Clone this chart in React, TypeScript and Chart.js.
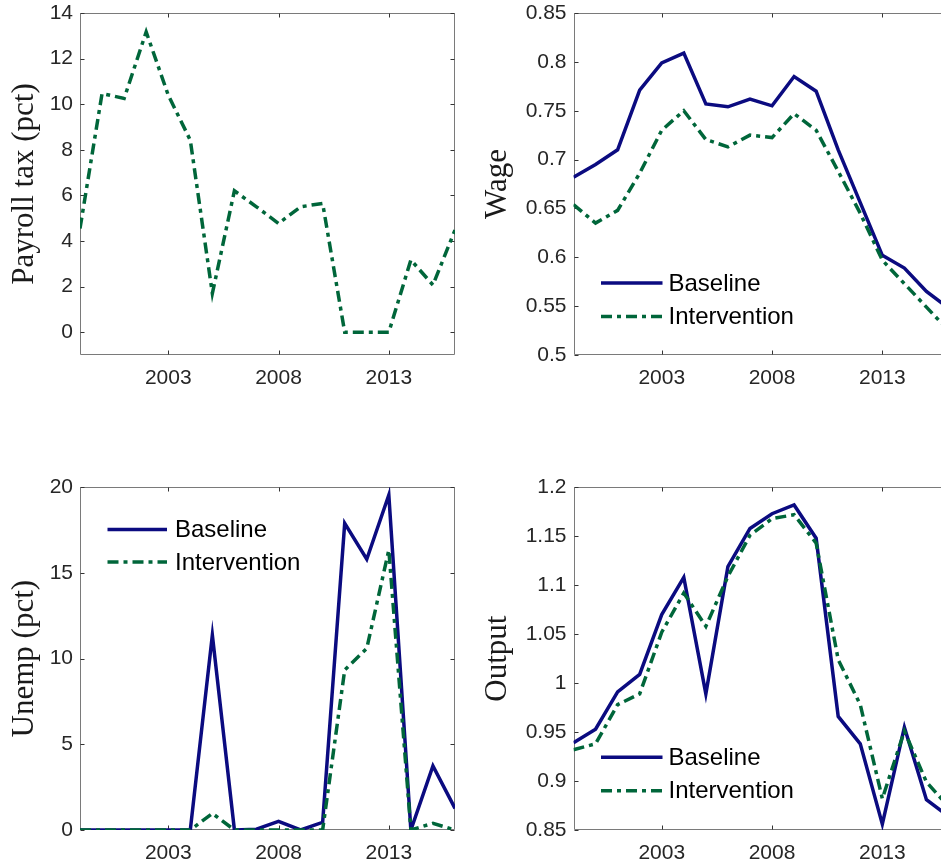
import React, { useEffect, useRef } from 'react';
import { Chart, registerables } from 'chart.js';

Chart.register(...registerables);

// ---------------- data ----------------
const years = [1999, 2000, 2001, 2002, 2003, 2004, 2005, 2006, 2007, 2008, 2009, 2010, 2011, 2012, 2013, 2014, 2015, 2016];
const xTicks = [2003, 2008, 2013];
const xTickLabels = ['2003', '2008', '2013'];

const seriesNames = ['Baseline', 'Intervention'];

const payrollIntervention = [4.55, 10.47, 10.25, 13.17, 10.4, 8.42, 1.7, 6.2, 5.5, 4.77, 5.5, 5.65, 0, 0, 0, 3.17, 2.07, 4.48];

const wageBaseline = [0.682, 0.695, 0.71, 0.771, 0.799, 0.809, 0.757, 0.754, 0.762, 0.755, 0.785, 0.77, 0.71, 0.656, 0.602, 0.589, 0.565, 0.548];
const wageIntervention = [0.654, 0.635, 0.648, 0.686, 0.73, 0.75, 0.7205, 0.713, 0.725, 0.7225, 0.747, 0.73, 0.688, 0.645, 0.597, 0.573, 0.549, 0.525];

const unempBaseline = [0, 0, 0, 0, 0, 0, 11.38, 0, 0.05, 0.5, 0, 0.45, 17.9, 15.8, 19.55, 0, 3.74, 1.26];
const unempIntervention = [0, 0, 0, 0, 0, 0, 0.97, 0, 0, 0, 0, 0, 9.34, 10.6, 16.34, 0, 0.39, 0];

const outputBaseline = [0.939, 0.953, 0.991, 1.009, 1.07, 1.108, 0.989, 1.119, 1.158, 1.173, 1.182, 1.148, 0.966, 0.938, 0.856, 0.955, 0.881, 0.864];
const outputIntervention = [0.932, 0.938, 0.978, 0.989, 1.052, 1.092, 1.058, 1.109, 1.151, 1.168, 1.172, 1.143, 1.024, 0.978, 0.882, 0.951, 0.899, 0.874];

const payrollTicks = [0, 2, 4, 6, 8, 10, 12, 14];
const payrollTickLabels = ['0', '2', '4', '6', '8', '10', '12', '14'];
const wageTicks = [0.5, 0.55, 0.6, 0.65, 0.7, 0.75, 0.8, 0.85];
const wageTickLabels = ['0.5', '0.55', '0.6', '0.65', '0.7', '0.75', '0.8', '0.85'];
const unempTicks = [0, 5, 10, 15, 20];
const unempTickLabels = ['0', '5', '10', '15', '20'];
const outputTicks = [0.85, 0.9, 0.95, 1, 1.05, 1.1, 1.15, 1.2];
const outputTickLabels = ['0.85', '0.9', '0.95', '1', '1.05', '1.1', '1.15', '1.2'];

// ---------------- styles ----------------
const BASE_COLOR = '#0b0b80';
const INTV_COLOR = '#00663a';
const LINE_W = 3.5;
const INTV_DASH = [11, 5, 4, 5];
const SANS = '"Liberation Sans", Arial, Helvetica, sans-serif';
const SERIF = '"Liberation Serif", "Times New Roman", serif';
const TICK_COLOR = '#262626';
const FRAME_COLOR = '#7a7a7a';

type Series = { label: string; data: number[]; color: string; dash: number[]; order: number };

type LegendSpec = { x1: number; x2: number; tx: number; y: number; gap: number };

type PanelProps = {
  left: number;
  top: number;
  width: number;
  height: number;
  padLeft: number;
  padTop: number;
  padRight: number;
  yAxisWidth: number;
  xAxisHeight: number;
  yMin: number;
  yMax: number;
  yTicks: number[];
  yTickLabels: string[];
  yTitle: string;
  series: Series[];
  legend?: LegendSpec;
};

function framePlugin(yTicks: number[]) {
  return {
    id: 'matlabFrame',
    beforeDatasetsDraw(chart: any) {
      const { ctx, chartArea: a, scales } = chart;
      const xs = scales.x;
      const ys = scales.y;
      ctx.save();
      ctx.strokeStyle = FRAME_COLOR;
      ctx.lineWidth = 1;
      const L = Math.round(a.left) + 0.5;
      const R = Math.round(a.right) - 0.5;
      const T = Math.round(a.top) + 0.5;
      const B = Math.round(a.bottom) - 0.5;
      ctx.beginPath();
      ctx.moveTo(L, T);
      ctx.lineTo(R, T);
      ctx.lineTo(R, B);
      ctx.lineTo(L, B);
      ctx.closePath();
      ctx.stroke();
      ctx.strokeStyle = '#333333';
      ctx.beginPath();
      const tl = 4;
      for (const v of xTicks) {
        const px = Math.round(xs.getPixelForValue(v)) + 0.5;
        ctx.moveTo(px, B);
        ctx.lineTo(px, B - tl);
        ctx.moveTo(px, T);
        ctx.lineTo(px, T + tl);
      }
      for (const v of yTicks) {
        const py = Math.round(ys.getPixelForValue(v)) + 0.5;
        ctx.moveTo(L, py);
        ctx.lineTo(L + tl, py);
        ctx.moveTo(R, py);
        ctx.lineTo(R - tl, py);
      }
      ctx.stroke();
      ctx.restore();
    },
  };
}

function legendPlugin(series: Series[], spec?: LegendSpec) {
  return {
    id: 'miniLegend',
    afterDatasetsDraw(chart: any) {
      if (!spec) return;
      const { ctx, chartArea: a } = chart;
      ctx.save();
      const ordered = seriesNames
        .map((n) => series.find((s) => s.label === n))
        .filter(Boolean) as Series[];
      ordered.forEach((s, i) => {
        const y = a.top + spec.y + i * spec.gap;
        ctx.strokeStyle = s.color;
        ctx.lineWidth = LINE_W;
        ctx.setLineDash(s.dash);
        ctx.beginPath();
        ctx.moveTo(a.left + spec.x1, y);
        ctx.lineTo(a.left + spec.x2, y);
        ctx.stroke();
        ctx.setLineDash([]);
        ctx.fillStyle = '#000000';
        ctx.font = `24px ${SANS}`;
        ctx.textAlign = 'left';
        ctx.textBaseline = 'middle';
        ctx.fillText(s.label, a.left + spec.tx, y + 1);
      });
      ctx.restore();
    },
  };
}

function Panel(p: PanelProps) {
  const ref = useRef<HTMLCanvasElement | null>(null);
  useEffect(() => {
    const canvas = ref.current;
    if (!canvas) return;
    const chart = new Chart(canvas, {
      type: 'line',
      data: {
        datasets: p.series.map((s) => ({
          label: s.label,
          data: years.map((x, i) => ({ x, y: s.data[i] })),
          borderColor: s.color,
          backgroundColor: s.color,
          borderWidth: LINE_W,
          borderDash: s.dash,
          borderJoinStyle: 'miter' as const,
          borderCapStyle: 'butt' as const,
          pointRadius: 0,
          pointHoverRadius: 0,
          tension: 0,
          fill: false,
          order: s.order,
        })),
      },
      options: {
        animation: false,
        responsive: false,
        maintainAspectRatio: false,
        events: [],
        layout: { padding: { left: p.padLeft, top: p.padTop, right: p.padRight, bottom: 0 } },
        plugins: {
          legend: { display: false },
          tooltip: { enabled: false },
        },
        scales: {
          x: {
            type: 'linear',
            min: 1999,
            max: 2016,
            bounds: 'data',
            grid: { display: false, drawTicks: false },
            border: { display: false },
            afterBuildTicks: (s: any) => {
              s.ticks = xTicks.map((v) => ({ value: v }));
            },
            afterFit: (s: any) => {
              s.height = p.xAxisHeight;
              s.paddingLeft = 0;
              s.paddingRight = 0;
              s.paddingTop = 0;
              s.paddingBottom = 0;
            },
            ticks: {
              autoSkip: false,
              maxRotation: 0,
              minRotation: 0,
              padding: 11,
              color: TICK_COLOR,
              font: { family: SANS, size: 21 },
              callback: (_v: any, i: number) => xTickLabels[i],
            },
          },
          y: {
            type: 'linear',
            min: p.yMin,
            max: p.yMax,
            bounds: 'data',
            grid: { display: false, drawTicks: false },
            border: { display: false },
            afterBuildTicks: (s: any) => {
              s.ticks = p.yTicks.map((v) => ({ value: v }));
            },
            afterFit: (s: any) => {
              s.width = p.yAxisWidth;
              s.paddingLeft = 0;
              s.paddingRight = 0;
              s.paddingTop = 0;
              s.paddingBottom = 0;
            },
            ticks: {
              autoSkip: false,
              padding: 7,
              color: TICK_COLOR,
              font: { family: SANS, size: 21 },
              callback: (_v: any, i: number) => p.yTickLabels[i],
            },
            title: {
              display: true,
              text: p.yTitle,
              color: '#1a1a1a',
              padding: 0,
              font: { family: SERIF, size: 31, lineHeight: 1.2 },
            },
          },
        },
      },
      plugins: [framePlugin(p.yTicks), legendPlugin(p.series, p.legend)],
    } as any);
    return () => chart.destroy();
  }, []);
  return (
    <canvas
      ref={ref}
      width={p.width}
      height={p.height}
      style={{ position: 'absolute', left: p.left, top: p.top, width: p.width, height: p.height }}
    />
  );
}

const baseSeries = (data: number[]): Series => ({ label: seriesNames[0], data, color: BASE_COLOR, dash: [], order: 1 });
const intvSeries = (data: number[]): Series => ({ label: seriesNames[1], data, color: INTV_COLOR, dash: INTV_DASH, order: 0 });

export default function App() {
  return (
    <div
      style={{
        position: 'absolute',
        left: 0,
        top: 0,
        width: 941,
        height: 866,
        overflow: 'hidden',
        background: '#ffffff',
      }}
    >
      <Panel
        left={0}
        top={0}
        width={470}
        height={400}
        padLeft={6.4}
        padTop={13}
        padRight={15}
        yAxisWidth={73.6}
        xAxisHeight={45}
        yMin={-1}
        yMax={14}
        yTicks={payrollTicks}
        yTickLabels={payrollTickLabels}
        yTitle="Payroll tax (pct)"
        series={[intvSeries(payrollIntervention)]}
      />
      <Panel
        left={470}
        top={0}
        width={490}
        height={400}
        padLeft={9.4}
        padTop={13}
        padRight={11.5}
        yAxisWidth={94.1}
        xAxisHeight={45}
        yMin={0.5}
        yMax={0.85}
        yTicks={wageTicks}
        yTickLabels={wageTickLabels}
        yTitle="Wage"
        series={[baseSeries(wageBaseline), intvSeries(wageIntervention)]}
        legend={{ x1: 27.5, x2: 89, tx: 95, y: 270, gap: 33.5 }}
      />
      <Panel
        left={0}
        top={470}
        width={470}
        height={396}
        padLeft={6.4}
        padTop={17.3}
        padRight={15}
        yAxisWidth={73.6}
        xAxisHeight={36}
        yMin={0}
        yMax={20}
        yTicks={unempTicks}
        yTickLabels={unempTickLabels}
        yTitle="Unemp (pct)"
        series={[baseSeries(unempBaseline), intvSeries(unempIntervention)]}
        legend={{ x1: 27.5, x2: 87, tx: 95, y: 42.3, gap: 32.5 }}
      />
      <Panel
        left={470}
        top={470}
        width={490}
        height={396}
        padLeft={9.4}
        padTop={17.3}
        padRight={11.5}
        yAxisWidth={94.1}
        xAxisHeight={36}
        yMin={0.85}
        yMax={1.2}
        yTicks={outputTicks}
        yTickLabels={outputTickLabels}
        yTitle="Output"
        series={[baseSeries(outputBaseline), intvSeries(outputIntervention)]}
        legend={{ x1: 27.5, x2: 89, tx: 95, y: 270, gap: 33.5 }}
      />
    </div>
  );
}
